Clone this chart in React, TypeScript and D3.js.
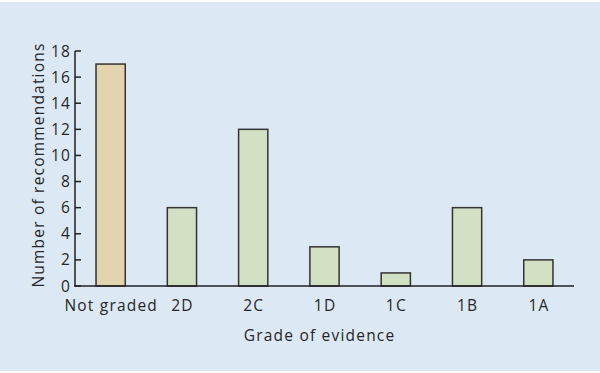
import React from "react";
import * as d3 from "d3";

const categories = ["Not graded", "2D", "2C", "1D", "1C", "1B", "1A"];
const values = [17, 6, 12, 3, 1, 6, 2];
const barColors = ["#e3d4b0", "#d2e1c3", "#d2e1c3", "#d2e1c3", "#d2e1c3", "#d2e1c3", "#d2e1c3"];
const yTicks = [0, 2, 4, 6, 8, 10, 12, 14, 16, 18];

const W = 600;
const H = 373;
const FONT = "'Open Sans', sans-serif";
const TEXT = "#262626";
const FS = 15.5;
const LS = 1.2;

export default function App() {
  const x = d3
    .scaleBand<string>()
    .domain(categories)
    .range([75, 574])
    .paddingInner(0.59)
    .paddingOuter(0.295);
  const y = d3.scaleLinear().domain([0, 18]).range([286, 51]);

  return (
    <svg
      width={W}
      height={H}
      style={{ position: "absolute", left: 0, top: 0 }}
      fontFamily={FONT}
      fontWeight={400}
    >
      <rect x={0} y={0} width={W} height={H} fill="#ffffff" />
      <rect x={0} y={2} width={W} height={369} fill="#dce9f5" />
      {categories.map((c, i) => (
        <rect
          key={c}
          x={x(c)}
          y={y(values[i])}
          width={x.bandwidth()}
          height={y(0) - y(values[i])}
          fill={barColors[i]}
          stroke="#333"
          strokeWidth={1.5}
        />
      ))}
      {/* y axis */}
      <line x1={75} x2={75} y1={y(18)} y2={y(0)} stroke="#222" strokeWidth={1.5} />
      {yTicks.map((t) => (
        <g key={t}>
          <line x1={75} x2={81} y1={y(t)} y2={y(t)} stroke="#222" strokeWidth={1.5} />
          <text
            x={70 + LS}
            y={y(t)}
            dy="0.36em"
            textAnchor="end"
            fontSize={FS}
            letterSpacing={LS}
            fill={TEXT}
          >
            {t}
          </text>
        </g>
      ))}
      {/* x axis */}
      <line x1={74} x2={574} y1={y(0)} y2={y(0)} stroke="#222" strokeWidth={1.5} />
      {categories.map((c) => (
        <text
          key={c}
          x={(x(c) as number) + x.bandwidth() / 2 + LS / 2}
          y={311}
          textAnchor="middle"
          fontSize={FS}
          letterSpacing={LS}
          fill={TEXT}
        >
          {c}
        </text>
      ))}
      <text x={319 + LS / 2} y={341} textAnchor="middle" fontSize={FS} letterSpacing={LS} fill={TEXT}>
        Grade of evidence
      </text>
      <text
        transform={`translate(44, ${165}) rotate(-90)`}
        textAnchor="middle"
        fontSize={FS}
        letterSpacing={LS}
        fill={TEXT}
      >
        Number of recommendations
      </text>
    </svg>
  );
}
